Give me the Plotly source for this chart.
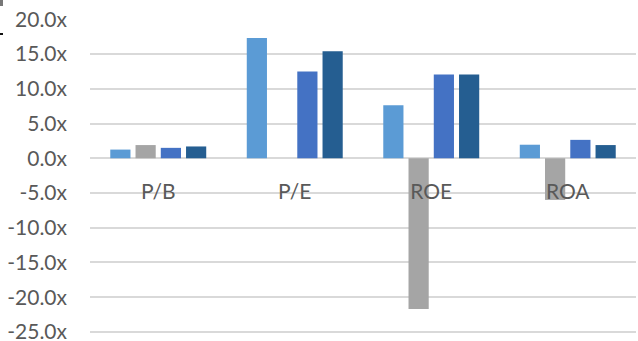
import plotly.graph_objects as go

categories = ["P/B", "P/E", "ROE", "ROA"]
series_names = ["Series 1", "Series 2", "Series 3", "Series 4"]
series_1 = [1.25, 17.3, 7.65, 1.95]
series_2 = [1.9, None, -21.7, -6.0]
series_3 = [1.5, 12.5, 12.05, 2.65]
series_4 = [1.7, 15.4, 12.05, 1.9]
colors = ["#5B9BD5", "#A5A5A5", "#4472C4", "#255E91"]

tick_vals = [20, 15, 10, 5, 0, -5, -10, -15, -20, -25]
tick_text = ["20.0x", "15.0x", "10.0x", "5.0x", "0.0x", "-5.0x", "-10.0x", "-15.0x", "-20.0x", "-25.0x"]

FONT = "Lato, 'Open Sans', sans-serif"
Y_LO, Y_HI = -25.3, 20.05

fig = go.Figure()
for name, vals, col in zip(series_names, [series_1, series_2, series_3, series_4], colors):
    fig.add_trace(go.Bar(x=categories, y=vals, name=name, marker=dict(color=col, line=dict(width=0))))

fig.update_layout(
    width=638, height=341,
    margin=dict(l=90, r=2, t=19, b=7),
    paper_bgcolor="white", plot_bgcolor="white",
    barmode="group", bargap=0.26, bargroupgap=0.2,
    showlegend=False,
    font=dict(family=FONT, size=21, color="#595959"),
    xaxis=dict(
        anchor="free", position=(0 - Y_LO) / (Y_HI - Y_LO),
        showgrid=False, showline=False, zeroline=False,
        ticks="", ticklabelstandoff=19, automargin=False,
        tickfont=dict(family=FONT, size=21, color="#595959"),
    ),
    yaxis=dict(
        range=[Y_LO, Y_HI], tickvals=tick_vals, ticktext=tick_text,
        showgrid=True, gridcolor="#d9d9d9", gridwidth=1.5,
        zeroline=True, zerolinecolor="#d9d9d9", zerolinewidth=1.5,
        showline=False, ticks="", ticklabelstandoff=22,
        ticklabeloverflow="allow", automargin=False,
        tickfont=dict(family=FONT, size=21, color="#595959"),
    ),
)

# small marks at the top-left corner of the picture
fig.add_shape(type="rect", xref="paper", yref="paper",
              x0=-90 / 546, x1=-87 / 546, y0=1 + 19 / 315, y1=1 + 13 / 315,
              fillcolor="#777777", line=dict(width=0))
fig.add_shape(type="rect", xref="paper", yref="paper",
              x0=-90 / 546, x1=-87 / 546, y0=1 - 14 / 315, y1=1 - 16 / 315,
              fillcolor="#111111", line=dict(width=0))

fig.write_html("out.html")
